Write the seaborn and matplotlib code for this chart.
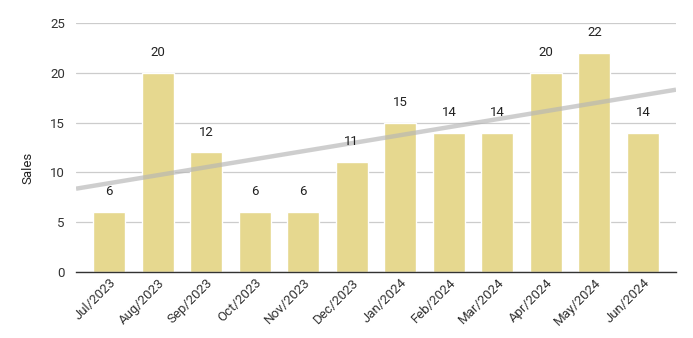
import numpy as np
import pandas as pd
import seaborn as sns
import matplotlib.pyplot as plt

months = ["Jul/2023", "Aug/2023", "Sep/2023", "Oct/2023", "Nov/2023", "Dec/2023",
          "Jan/2024", "Feb/2024", "Mar/2024", "Apr/2024", "May/2024", "Jun/2024"]
sales = [6, 20, 12, 6, 6, 11, 15, 14, 14, 20, 22, 14]

df = pd.DataFrame({"Month": months, "Sales": sales})

sns.set_style("white")
plt.rcParams["font.family"] = ["Roboto", "DejaVu Sans"]

fig = plt.figure(figsize=(6.93, 3.38), dpi=100)
ax = fig.add_axes([0.1097, 0.1953, 0.8658, 0.7367])

ax.set_axisbelow(True)
ax.yaxis.grid(True, color="#cccccc", linewidth=0.9)
sns.barplot(data=df, x="Month", y="Sales", color="#e6d88f", saturation=1,
            width=0.66, ax=ax)

for i, v in enumerate(sales):
    ax.text(i, v + 1.4, str(v), ha="center", va="bottom", fontsize=9.5, color="#222222")

# linear trend line
xs = np.arange(len(sales))
slope, intercept = np.polyfit(xs, sales, 1)
xl = np.array([-0.68, 11.68])
ax.plot(xl, slope * xl + intercept, color="#b5b5b5", alpha=0.65, linewidth=3.2,
        solid_capstyle="butt")

ax.set_xlim(-0.68, 11.68)
ax.set_ylim(0, 25)
ax.set_yticks([0, 5, 10, 15, 20, 25])
ax.set_xlabel("")
ax.set_ylabel("Sales", fontsize=9.5, color="#222222")
ax.yaxis.set_label_coords(-0.07, 0.42)
for s in ["top", "right", "left"]:
    ax.spines[s].set_visible(False)
ax.spines["bottom"].set_color("#333333")
ax.spines["bottom"].set_linewidth(1.0)
ax.tick_params(axis="y", length=0, labelsize=9.5, labelcolor="#333333", pad=8)
ax.tick_params(axis="x", length=0, labelsize=9.5, labelcolor="#333333", pad=3)
plt.setp(ax.get_xticklabels(), rotation=45, ha="right", rotation_mode="anchor")

fig.savefig("out.png", dpi=100)
